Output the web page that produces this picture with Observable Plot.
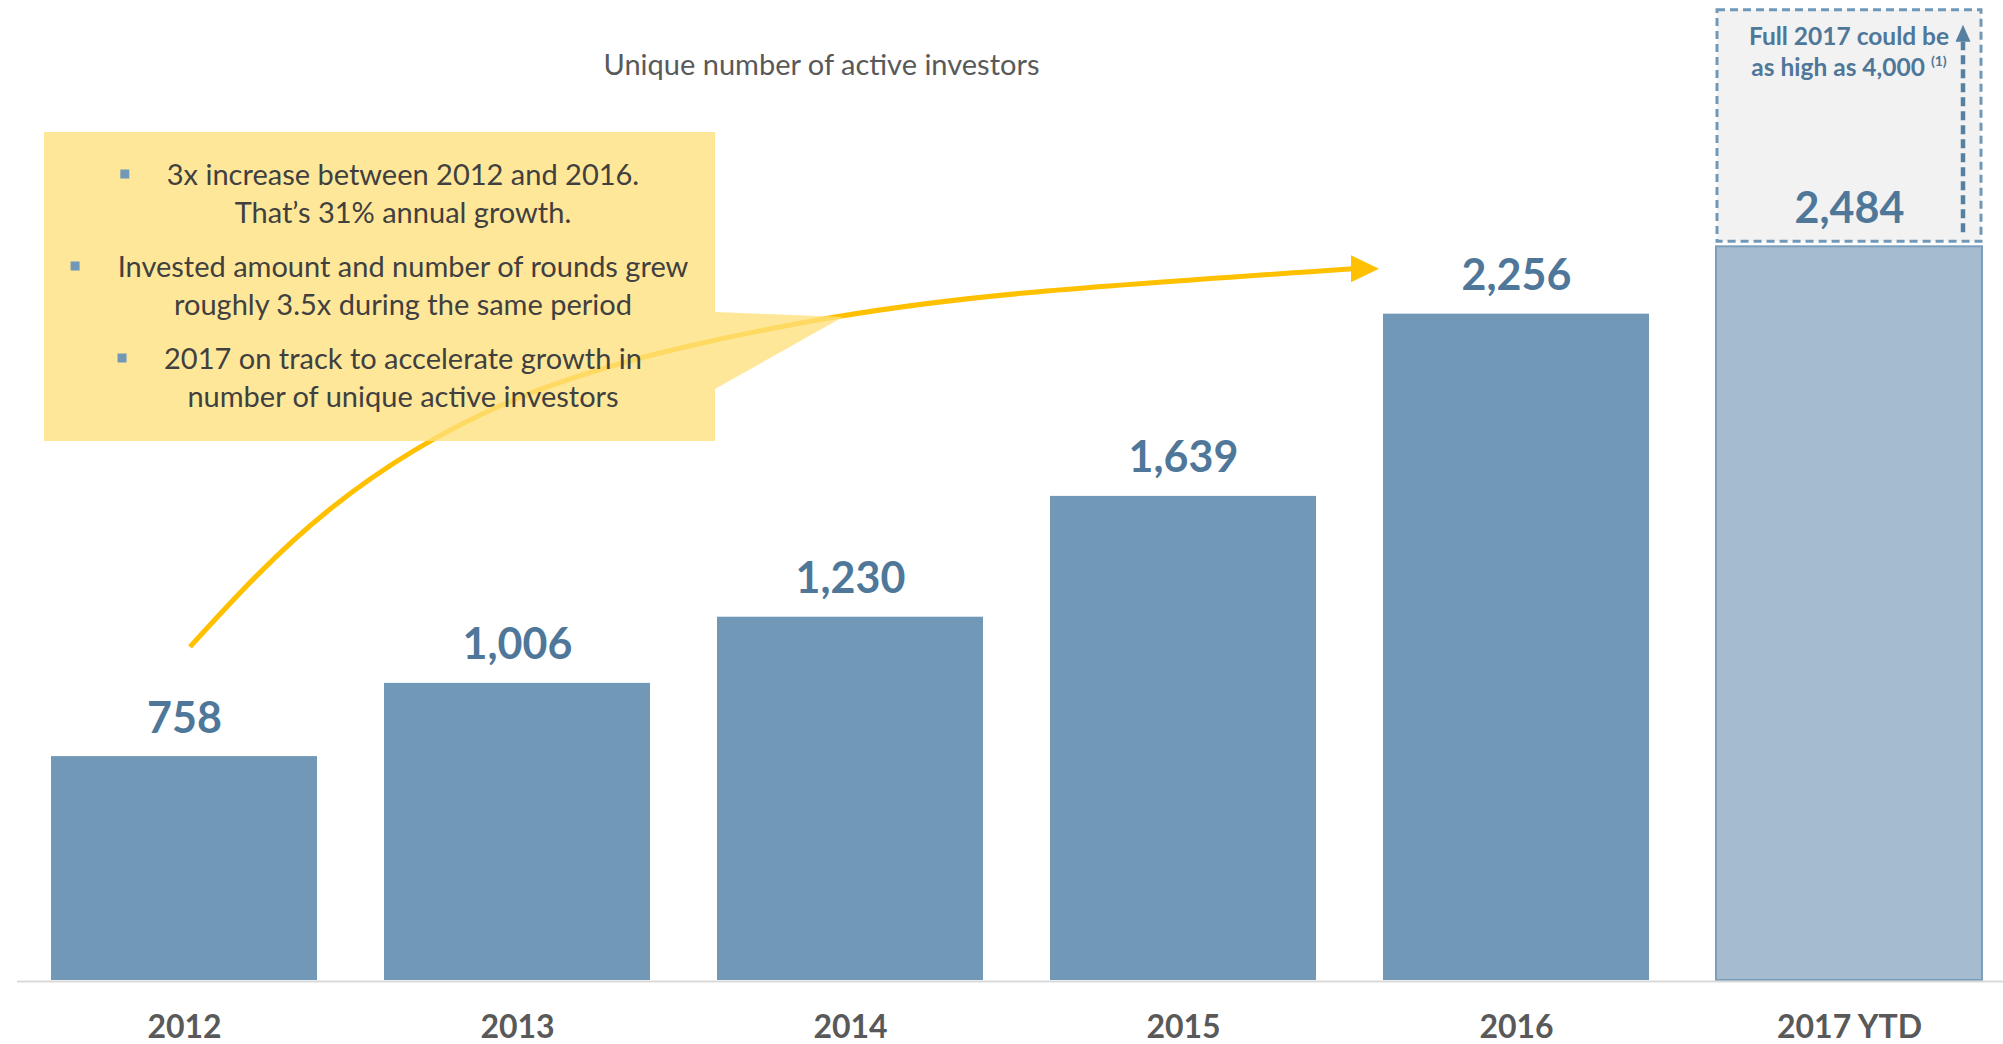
<!DOCTYPE html>
<html>
<head>
<meta charset="utf-8">
<script src="https://cdn.jsdelivr.net/npm/d3@7"></script>
<script src="https://cdn.jsdelivr.net/npm/@observablehq/plot@0.6"></script>
<style>
html, body { margin: 0; padding: 0; background: #ffffff; }
#chart { width: 2003px; height: 1044px; overflow: hidden; }
</style>
</head>
<body>
<div id="chart"></div>
<script>
// ---------- data ----------
const years = ["2012", "2013", "2014", "2015", "2016", "2017 YTD"];
const investors = [758, 1006, 1230, 1639, 2256, 2484];
const isYearToDate = [false, false, false, false, false, true];
const title = "Unique number of active investors";
const bulletPoints = [
  ["3x increase between 2012 and 2016.", "That’s 31% annual growth."],
  ["Invested amount and number of rounds grew", "roughly 3.5x during the same period"],
  ["2017 on track to accelerate growth in", "number of unique active investors"]
];
const ytdNoteLines = ["Full 2017 could be", "as high as 4,000"];
const ytdNoteRef = "(1)";

// ---------- styling ----------
const W = 2003, H = 1044;
const FONT = "Lato, 'Open Sans', sans-serif";
const BAR = "#7198b6", BAR_YTD = "#a5bbcf", BAR_YTD_EDGE = "#7d9eba";
const LABEL = "#4f7799", AXIS_TEXT = "#595959", GOLD = "#ffc000";

const data = years.map((year, i) => ({year, value: investors[i], ytd: isYearToDate[i]}));
const fmt = d3.format(",");
const bw = s => typeof s.bandwidth === "function" ? s.bandwidth() : (s.bandwidth || 0);
const ctx2d = document.createElement("canvas").getContext("2d");
const measure = (t, font) => { ctx2d.font = font; return ctx2d.measureText(t).width; };

// annotation anchors (value space)
const arrowFromValue = 1128, arrowToValue = 2408, ytdBoxTopValue = 3285;

// yellow growth arrow
function growthArrow(index, {x, y}) {
  const g = d3.create("svg:g");
  const b = bw(x);
  const x0 = x(years[0]) + b / 2 + 6, y0 = y(arrowFromValue);
  const x1 = x(years[4]) - 30, y1 = y(arrowToValue);
  const shape = [[0, 0], [0.1195, 0.362], [0.2726, 0.6455], [0.4265, 0.7937], [0.556, 0.873], [0.7197, 0.9365], [1, 1]];
  const pts = shape.map(([u, v]) => [x0 + u * (x1 - x0), y0 + v * (y1 - y0)]);
  g.append("path").attr("d", d3.line().curve(d3.curveNatural)(pts))
    .attr("fill", "none").attr("stroke", GOLD).attr("stroke-width", 5);
  g.append("path").attr("d", `M${x1 - 2},${y1 - 13.5}L${x1 + 26},${y1}L${x1 - 2},${y1 + 13.5}Z`).attr("fill", GOLD);
  return g.node();
}

// callout box with bullets
function callout(index, {x, y}) {
  const g = d3.create("svg:g");
  const left = 44, top = 132, right = 715, bottom = 441;
  g.append("path")
    .attr("d", `M${left},${top}H${right}V312L843,317L${right},389V${bottom}H${left}Z`)
    .attr("fill", "rgb(255,224,125)").attr("fill-opacity", 0.79);
  const cx = 403, fs = 29, first = 185, lineGap = 38, groupGap = 54;
  let base = first;
  bulletPoints.forEach(lines => {
    const w = measure(lines[0], `${fs}px Lato`);
    g.append("rect").attr("x", cx - w / 2 - 42 - 4.5).attr("y", base - 11 - 4.5)
      .attr("width", 9).attr("height", 9).attr("fill", BAR);
    lines.forEach((line, j) => {
      g.append("text").attr("x", cx).attr("y", base + j * lineGap)
        .attr("text-anchor", "middle").attr("font-family", FONT).attr("font-size", fs)
        .attr("fill", "#404040").text(line);
    });
    base += (lines.length - 1) * lineGap + groupGap;
  });
  return g.node();
}

// note in the dashed 2017 box
function ytdNote(index, {x, y}) {
  const g = d3.create("svg:g");
  const b = bw(x);
  const left = x(years[5]);
  const cx = left + b / 2;
  const topY = y(ytdBoxTopValue);
  g.append("text").attr("x", cx).attr("y", topY + 35).attr("text-anchor", "middle")
    .attr("font-family", FONT).attr("font-weight", 700).attr("font-size", 24.5).attr("fill", LABEL)
    .text(ytdNoteLines[0]);
  const t2 = g.append("text").attr("x", cx).attr("y", topY + 66).attr("text-anchor", "middle")
    .attr("font-family", FONT).attr("font-weight", 700).attr("font-size", 24.5).attr("fill", LABEL);
  t2.append("tspan").text(ytdNoteLines[1] + " ");
  t2.append("tspan").attr("font-size", 14).attr("dy", -10).text(ytdNoteRef);
  // dashed upward arrow
  const ax = left + b - 19;
  const aBottom = y(investors[5]) - 14, aTip = topY + 15, aBase = topY + 32;
  g.append("line").attr("x1", ax).attr("x2", ax).attr("y1", aBottom).attr("y2", aBase)
    .attr("stroke", "#55809f").attr("stroke-width", 4.5).attr("stroke-dasharray", "9,5");
  g.append("path").attr("d", `M${ax - 7.5},${aBase}L${ax},${aTip}L${ax + 7.5},${aBase}Z`).attr("fill", "#55809f");
  return g.node();
}

const chart = Plot.plot({
  width: W,
  height: H,
  marginLeft: 51,
  marginRight: 20,
  marginTop: 0,
  marginBottom: 64,
  style: {background: "#ffffff", fontFamily: FONT},
  x: {domain: years, paddingInner: 0.2, paddingOuter: 0, axis: null},
  y: {domain: [0, 3318], axis: null},
  marks: [
    growthArrow,
    Plot.barY(data.filter(d => !d.ytd), {x: "year", y: "value", fill: BAR}),
    Plot.barY(data.filter(d => d.ytd), {x: "year", y: "value", fill: BAR_YTD, stroke: BAR_YTD_EDGE, strokeWidth: 2}),
    Plot.barY(data.filter(d => d.ytd), {x: "year", y1: "value", y2: () => ytdBoxTopValue, fill: "#f2f2f2",
      stroke: BAR, strokeWidth: 3, strokeDasharray: "8,5", insetBottom: 5, insetLeft: 1, insetRight: 1}),
    Plot.ruleY([0], {stroke: "#d9d9d9", strokeWidth: 2, dy: 1, insetLeft: -34, insetRight: -20}),
    Plot.text(data, {x: "year", y: "value", text: d => fmt(d.value), lineAnchor: "bottom", dy: -24,
      fontSize: 43, fontWeight: 700, fill: LABEL, fontFamily: FONT}),
    Plot.text(data, {x: "year", frameAnchor: "bottom", lineAnchor: "bottom", dy: 57, text: "year",
      fontSize: 32, fontWeight: 700, fill: AXIS_TEXT, fontFamily: FONT}),
    Plot.text([title], {frameAnchor: "top-left", textAnchor: "middle", dx: 770, dy: 74, lineAnchor: "bottom", text: d => d,
      fontSize: 29, fill: AXIS_TEXT, fontFamily: FONT}),
    callout,
    ytdNote
  ]
});
document.getElementById("chart").appendChild(chart);
</script>
</body>
</html>
